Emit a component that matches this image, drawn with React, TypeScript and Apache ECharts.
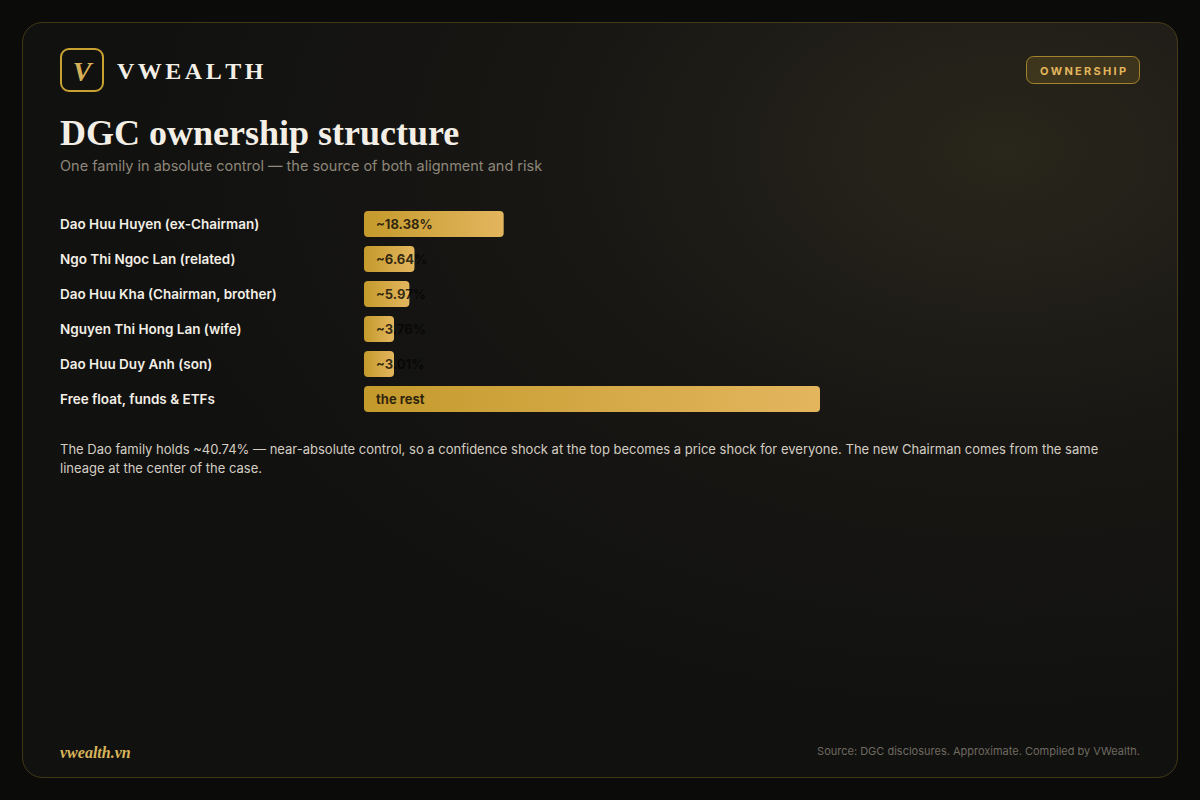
import React, { useEffect, useRef } from "react";
import * as echarts from "echarts";

const categories = [
  "Dao Huu Huyen (ex-Chairman)",
  "Ngo Thi Ngoc Lan (related)",
  "Dao Huu Kha (Chairman, brother)",
  "Nguyen Thi Hong Lan (wife)",
  "Dao Huu Duy Anh (son)",
  "Free float, funds & ETFs",
];
const values = [18.38, 6.64, 5.97, 3.76, 3.01, 60];
const barLabels = ["~18.38%", "~6.64%", "~5.97%", "~3.76%", "~3.01%", "the rest"];

const TITLE = "DGC ownership structure";
const SUBTITLE = "One family in absolute control — the source of both alignment and risk";
const NOTE =
  "The Dao family holds ~40.74% — near-absolute control, so a confidence shock at the top becomes a price shock for everyone. The new Chairman comes from the same\nlineage at the center of the case.";
const SOURCE = "Source: DGC disclosures. Approximate. Compiled by VWealth.";

const SANS = "Inter, 'Noto Sans', sans-serif";
const SERIF = "'Liberation Serif', 'DejaVu Serif', serif";

function spaced(text: string, x: number, y: number, font: string, spacing: number, fill: string, align: "left" | "center" = "left") {
  const ctx = document.createElement("canvas").getContext("2d")!;
  ctx.font = font;
  const widths = text.split("").map((c) => ctx.measureText(c).width);
  const total = widths.reduce((a, b) => a + b, 0) + spacing * (text.length - 1);
  let cx = align === "center" ? x - total / 2 : x;
  const out: any[] = [];
  text.split("").forEach((c, i) => {
    out.push({
      type: "text",
      x: cx,
      y,
      style: { text: c, font, fill, textAlign: "left", textVerticalAlign: "middle" },
    });
    cx += widths[i] + spacing;
  });
  return out;
}

export default function App() {
  const ref = useRef<HTMLDivElement>(null);
  useEffect(() => {
    document.body.style.margin = "0";
    const chart = echarts.init(ref.current!, undefined, { renderer: "svg" });
    const gold = (a: string, b: string) =>
      new echarts.graphic.LinearGradient(0, 0, 1, 0, [
        { offset: 0, color: a },
        { offset: 1, color: b },
      ]);
    chart.setOption({
      animation: false,
      backgroundColor: "#0b0b09",
      graphic: [
        {
          type: "rect",
          z: -10,
          shape: { x: 22.5, y: 22.5, width: 1155, height: 755, r: 20 },
          style: {
            fill: new echarts.graphic.RadialGradient(0.85, 0.17, 0.75, [
              { offset: 0, color: "#29261b" },
              { offset: 0.5, color: "#181714" },
              { offset: 1, color: "#111110" },
            ]),
            stroke: "rgba(201,160,50,0.28)",
            lineWidth: 1,
          },
        },
        {
          type: "rect",
          shape: { x: 61, y: 49, width: 42, height: 42, r: 8 },
          style: { fill: "transparent", stroke: "#c9a032", lineWidth: 2 },
        },
        {
          type: "text",
          x: 82,
          y: 71,
          style: {
            text: "V",
            font: "italic bold 28px " + SERIF,
            fill: "#d6b158",
            textAlign: "center",
            textVerticalAlign: "middle",
          },
        },
        ...spaced("VWEALTH", 117, 71, "bold 24px " + SERIF, 3.5, "#f3efe6"),
        {
          type: "rect",
          shape: { x: 1026.5, y: 56.5, width: 113, height: 27, r: 7 },
          style: { fill: "rgba(201,160,50,0.16)", stroke: "rgba(201,160,50,0.75)", lineWidth: 1 },
        },
        ...spaced("OWNERSHIP", 1083, 70.5, "bold 11px " + SANS, 2.3, "#e3b65e", "center"),
        {
          type: "text",
          x: 60,
          y: 133,
          style: { text: TITLE, font: "bold 36px " + SERIF, fill: "#f3efe6", textVerticalAlign: "middle" },
        },
        {
          type: "text",
          x: 60,
          y: 165,
          style: { text: SUBTITLE, font: "14.5px " + SANS, fill: "#8e877a", textVerticalAlign: "middle" },
        },
        {
          type: "text",
          x: 60,
          y: 439,
          style: { text: NOTE, font: "13px " + SANS, fill: "#d4cec2", lineHeight: 19.5, textVerticalAlign: "top" },
        },
        {
          type: "text",
          x: 60,
          y: 752,
          style: { text: "vwealth.vn", font: "italic bold 16px " + SERIF, fill: "#d9b45a", textVerticalAlign: "middle" },
        },
        {
          type: "text",
          x: 1140,
          y: 751,
          style: { text: SOURCE, font: "11px " + SANS, fill: "#6f6a60", textAlign: "right", textVerticalAlign: "middle" },
        },
      ],
      grid: { left: 364, width: 760, top: 206.5, height: 210 },
      xAxis: { type: "value", min: 0, max: 100, show: false },
      yAxis: {
        type: "category",
        data: categories,
        inverse: true,
        axisLine: { show: false },
        axisTick: { show: false },
        splitLine: { show: false },
        axisLabel: {
          align: "left",
          margin: 304,
          color: "#f3efe6",
          fontFamily: SANS,
          fontSize: 13.5,
          fontWeight: 600,
        },
      },
      series: [
        {
          type: "bar",
          data: values,
          barWidth: 26,
          barMinHeight: 30,
          itemStyle: { color: gold("#c49a2c", "#e3b65e"), borderRadius: 4 },
        },
        {
          type: "scatter",
          data: categories.map((c) => [0, c]),
          symbolSize: 0,
          z: 5,
          silent: true,
          label: {
            show: true,
            position: "right",
            distance: 12,
            color: "#050403",
            fontFamily: SANS,
            fontSize: 13,
            fontWeight: 700,
            formatter: (p: any) => barLabels[p.dataIndex],
          },
        },
      ],
    });
    return () => chart.dispose();
  }, []);
  return <div ref={ref} style={{ position: "absolute", left: 0, top: 0, width: 1200, height: 800 }} />;
}
